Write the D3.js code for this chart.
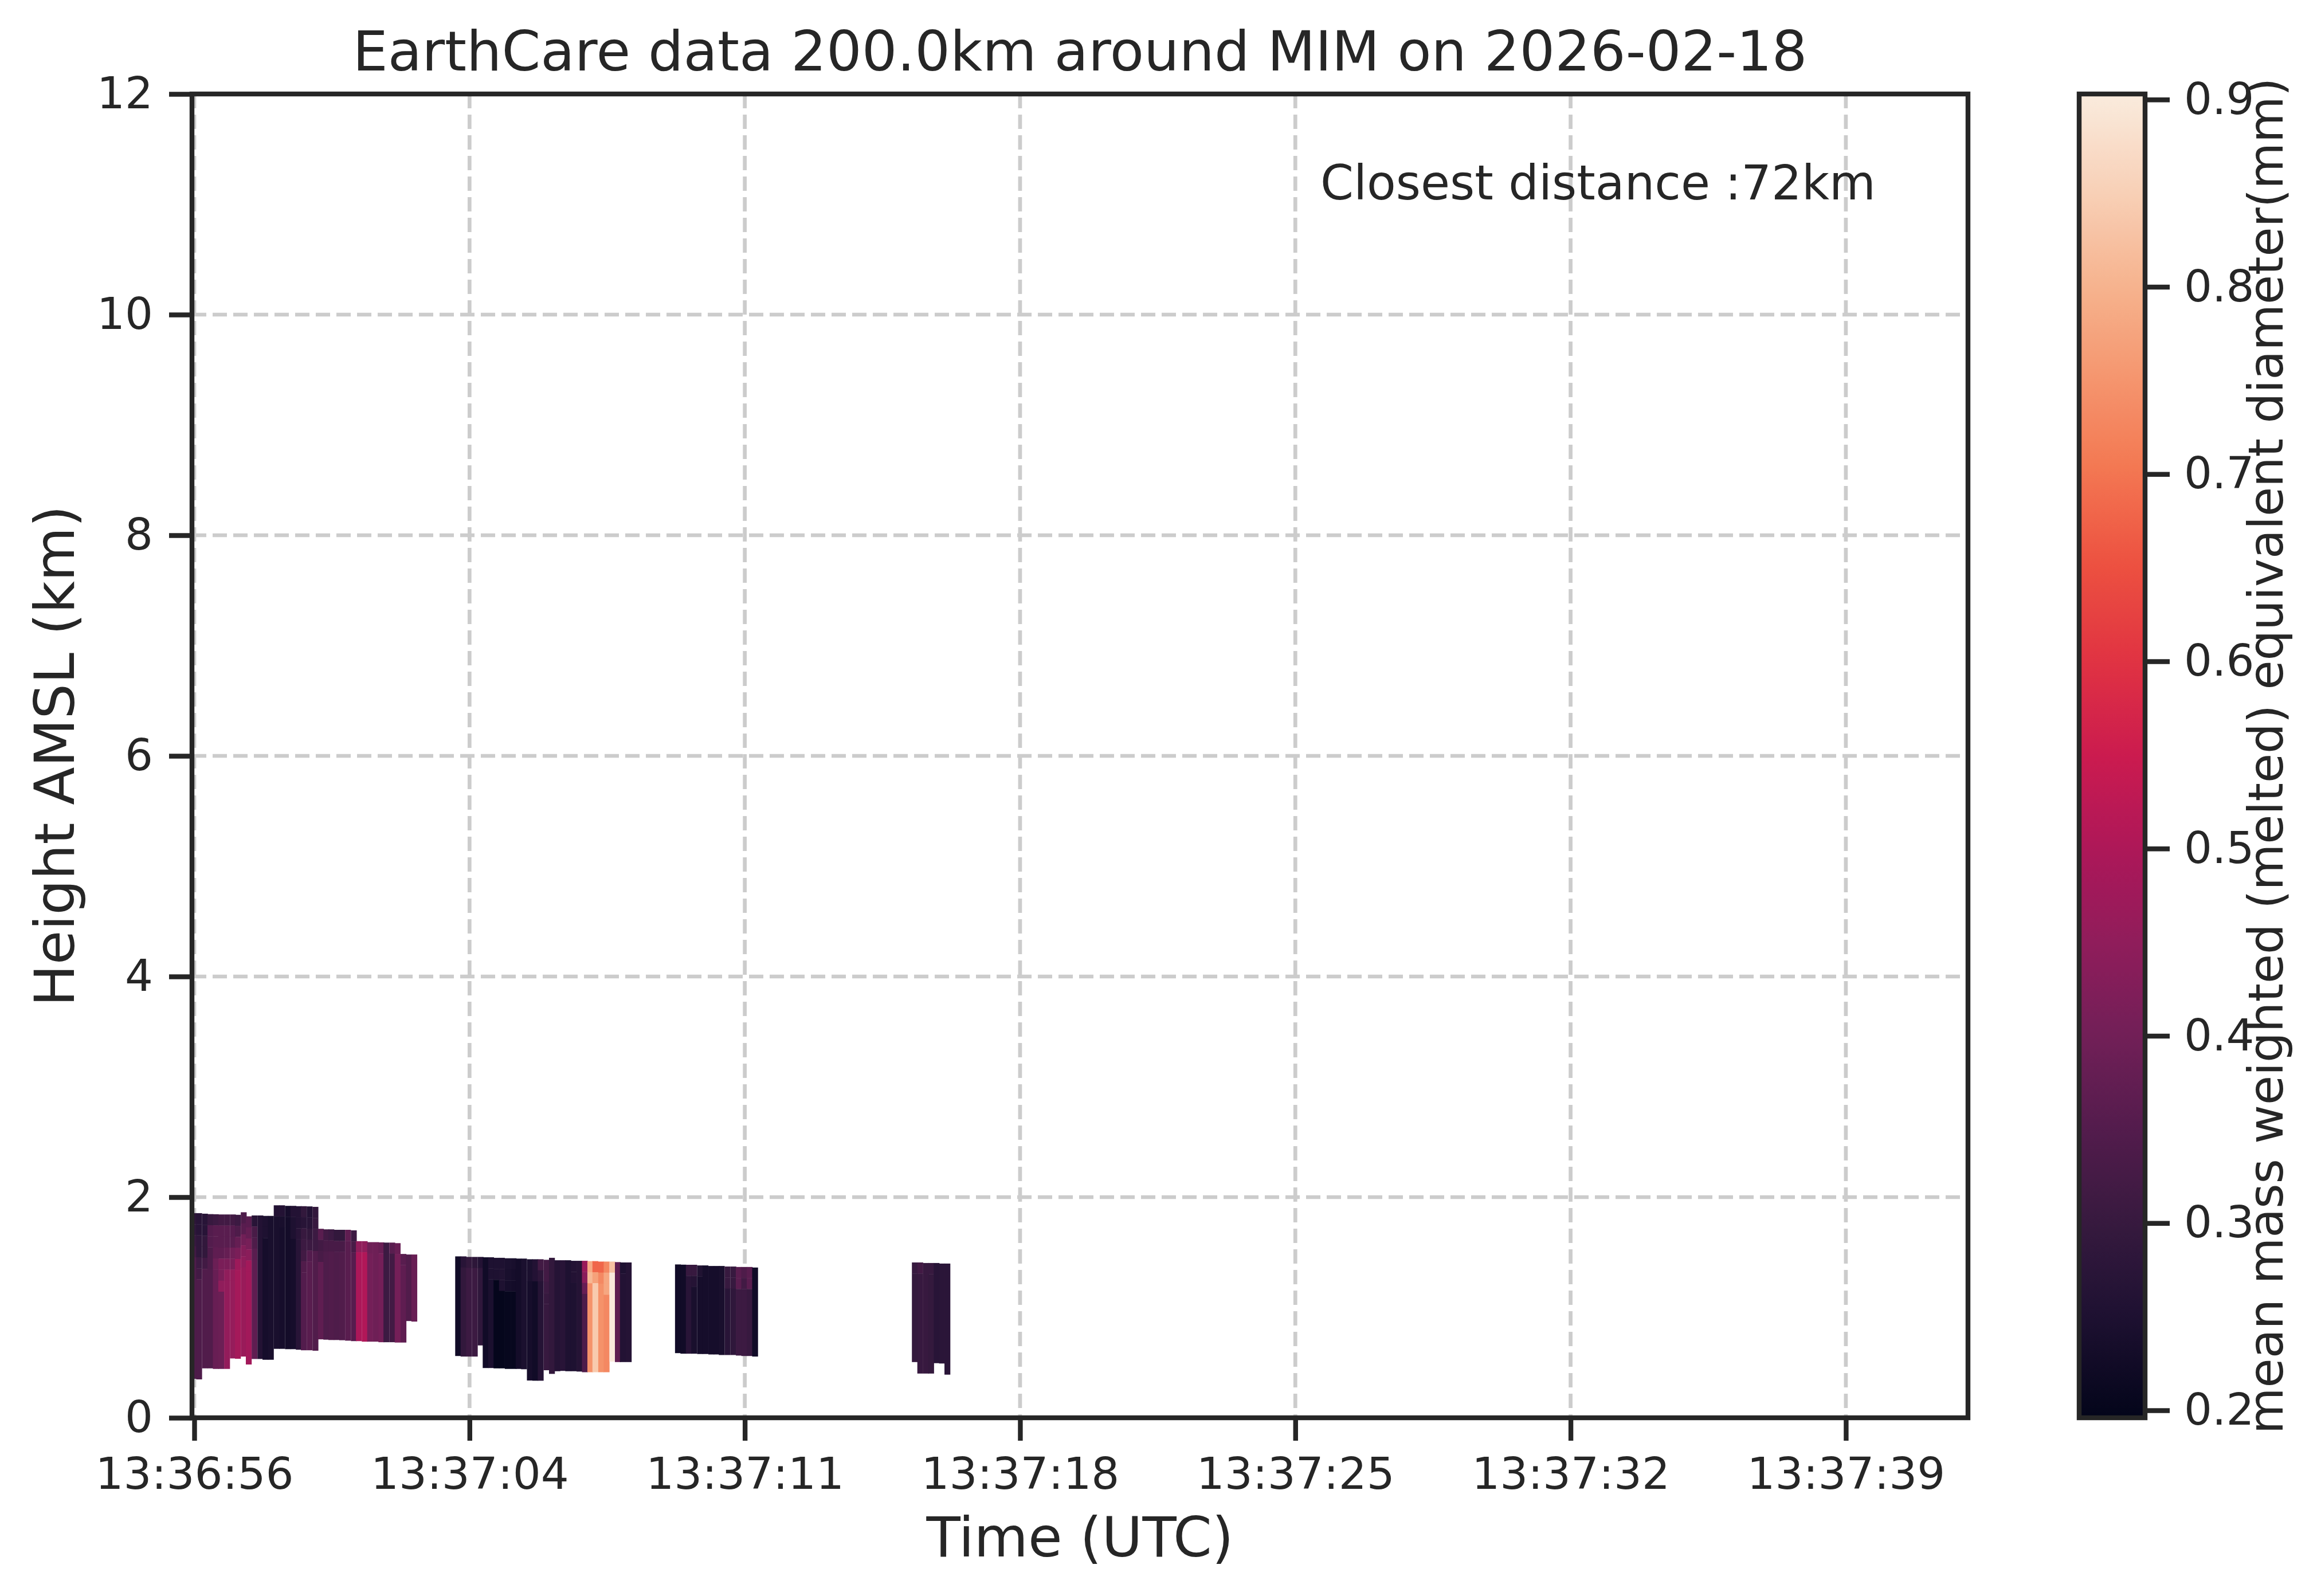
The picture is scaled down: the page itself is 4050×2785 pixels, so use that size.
<!DOCTYPE html>
<html>
<head>
<meta charset="utf-8">
<title>EarthCare MIM</title>
<script src="https://cdn.jsdelivr.net/npm/d3@7"></script>
<style>
    body { margin: 0; background: #ffffff; }
    text { font-family: "DejaVu Sans", sans-serif; fill: #262626; }
</style>
</head>
<body>
<script>
    const titleText = "EarthCare data 200.0km around MIM on 2026-02-18";
    const noteText = "Closest distance :72km";
    const xLabelText = "Time (UTC)";
    const yLabelText = "Height AMSL (km)";
    const cbarLabelText = "mean mass weighted (melted) equivalent diameter(mm)";

    // time in seconds after 13:36:00 UTC
    const timeDomain = [56.891, 102.70];
    const xTickSeconds = [56.95, 64.05, 71.15, 78.25, 85.35, 92.45, 99.55];
    const xTickLabels = ["13:36:56", "13:37:04", "13:37:11", "13:37:18", "13:37:25", "13:37:32", "13:37:39"];
    const heightDomain = [0, 12];
    const yTicks = [0, 2, 4, 6, 8, 10, 12];
    const colorDomain = [0.196, 0.903];
    const cbarTicks = [0.2, 0.3, 0.4, 0.5, 0.6, 0.7, 0.8, 0.9];

    const profileStep = 0.1425; // s between profiles
    const binHeight = 0.1;      // km per range bin

    // seaborn "rocket"
    const rocketStops = ["#03051a", "#1c1030", "#35193e", "#521c4c", "#701f57", "#8f1d5b", "#ad1759",
        "#cb1b4f", "#e13342", "#ec5040", "#f37651", "#f5966e", "#f6b48f", "#f8d1b8", "#faebdd"];

    // [time, base km, top km, values from top bin downward (last one fills down to base)]
    const segment1 = [
        [56.86, 0.355, 1.855, [0.28, 0.285, 0.30, 0.32, 0.34]],
        [57.00, 0.350, 1.855, [0.27, 0.27, 0.285, 0.285, 0.31, 0.32, 0.34]],
        [57.15, 0.450, 1.850, [0.27, 0.27, 0.29, 0.29, 0.32, 0.345]],
        [57.29, 0.450, 1.846, [0.30, 0.35, 0.35, 0.34, 0.34, 0.345]],
        [57.43, 0.445, 1.845, [0.31, 0.36, 0.36, 0.37, 0.39, 0.385]],
        [57.57, 0.445, 1.843, [0.32, 0.36, 0.36, 0.37, 0.415, 0.415, 0.45, 0.39]],
        [57.72, 0.445, 1.843, [0.32, 0.36, 0.36, 0.38, 0.415, 0.45, 0.455]],
        [57.87, 0.540, 1.843, [0.32, 0.355, 0.36, 0.40, 0.415, 0.46, 0.46]],
        [58.00, 0.537, 1.840, [0.31, 0.34, 0.38, 0.415, 0.47, 0.485]],
        [58.15, 0.557, 1.863, [0.34, 0.36, 0.40, 0.43, 0.45, 0.465]],
        [58.28, 0.485, 1.826, [0.36, 0.38, 0.41, 0.44, 0.48, 0.48]],
        [58.43, 0.535, 1.834, [0.27, 0.33, 0.34, 0.36, 0.37]],
        [58.58, 0.535, 1.834, [0.26]],
        [58.71, 0.528, 1.830, [0.25, 0.25, 0.235]],
        [58.85, 0.528, 1.830, [0.24]],
        [59.00, 0.627, 1.926, [0.26, 0.24]],
        [59.14, 0.627, 1.926, [0.26, 0.24, 0.235]],
        [59.29, 0.624, 1.921, [0.235, 0.23]],
        [59.43, 0.624, 1.921, [0.26, 0.25, 0.25, 0.235]],
        [59.57, 0.619, 1.918, [0.26, 0.26, 0.27, 0.27]],
        [59.70, 0.614, 1.918, [0.29, 0.27, 0.30, 0.31, 0.32, 0.345, 0.35]],
        [59.85, 0.614, 1.916, [0.26, 0.27, 0.29, 0.31, 0.35, 0.36]],
        [60.00, 0.610, 1.912, [0.29, 0.30, 0.31, 0.31, 0.345]],
        [60.14, 0.713, 1.713, [0.36, 0.32, 0.33, 0.37]],
        [60.28, 0.710, 1.708, [0.32, 0.33, 0.34]],
        [60.41, 0.707, 1.708, [0.31, 0.33, 0.345]],
        [60.55, 0.707, 1.704, [0.29, 0.33, 0.34]],
        [60.69, 0.705, 1.704, [0.29, 0.33, 0.345]],
        [60.84, 0.701, 1.704, [0.37, 0.36]],
        [60.99, 0.697, 1.699, [0.31, 0.33, 0.355]],
        [61.12, 0.697, 1.601, [0.45, 0.495]],
        [61.27, 0.692, 1.601, [0.45, 0.505]],
        [61.41, 0.692, 1.592, [0.395, 0.405]],
        [61.56, 0.692, 1.592, [0.395]],
        [61.70, 0.687, 1.590, [0.385, 0.405]],
        [61.83, 0.687, 1.588, [0.31]],
        [61.98, 0.687, 1.588, [0.36, 0.32]],
        [62.12, 0.684, 1.583, [0.385, 0.405]],
        [62.27, 0.684, 1.485, [0.36, 0.37]],
        [62.41, 0.879, 1.480, [0.345]],
        [62.55, 0.874, 1.480, [0.385]]
    ];

    const segment2 = [
        [63.68, 0.562, 1.463, [0.225]],
        [63.82, 0.557, 1.463, [0.27, 0.29]],
        [63.96, 0.557, 1.458, [0.29, 0.31]],
        [64.11, 0.557, 1.458, [0.28, 0.31]],
        [64.26, 0.658, 1.458, [0.26, 0.285]],
        [64.39, 0.453, 1.455, [0.225]],
        [64.53, 0.453, 1.455, [0.25, 0.25, 0.245]],
        [64.67, 0.450, 1.450, [0.25, 0.25, 0.20]],
        [64.81, 0.450, 1.450, [0.25, 0.255, 0.25, 0.20]],
        [64.96, 0.445, 1.446, [0.245, 0.24, 0.235, 0.205]],
        [65.11, 0.445, 1.446, [0.24, 0.235, 0.23, 0.205]],
        [65.24, 0.445, 1.443, [0.23]],
        [65.38, 0.442, 1.443, [0.245]],
        [65.53, 0.340, 1.437, [0.245, 0.245, 0.235]],
        [65.67, 0.338, 1.437, [0.26, 0.26, 0.225]],
        [65.81, 0.338, 1.437, [0.32, 0.28, 0.265]],
        [65.96, 0.433, 1.432, [0.32, 0.32, 0.31, 0.30, 0.30]],
        [66.10, 0.400, 1.450, [0.29]],
        [66.24, 0.424, 1.428, [0.265]],
        [66.38, 0.427, 1.428, [0.27]],
        [66.52, 0.424, 1.428, [0.25]],
        [66.66, 0.424, 1.423, [0.26, 0.26, 0.25]],
        [66.81, 0.421, 1.423, [0.265]],
        [66.95, 0.415, 1.423, [0.465, 0.44, 0.385, 0.34]],
        [67.09, 0.415, 1.420, [0.785, 0.81, 0.745]],
        [67.22, 0.415, 1.420, [0.68, 0.77, 0.84]],
        [67.37, 0.415, 1.416, [0.68, 0.73, 0.745]],
        [67.51, 0.415, 1.416, [0.73, 0.78, 0.78, 0.73]],
        [67.66, 0.511, 1.416, [0.825, 0.90]],
        [67.80, 0.507, 1.411, [0.37]],
        [67.93, 0.507, 1.408, [0.25, 0.26]],
        [68.08, 0.507, 1.408, [0.265]]
    ];

    const segment3 = [
        [69.35, 0.588, 1.390, [0.225]],
        [69.49, 0.583, 1.388, [0.225]],
        [69.63, 0.583, 1.387, [0.30, 0.27]],
        [69.77, 0.583, 1.387, [0.30, 0.265, 0.24]],
        [69.92, 0.580, 1.381, [0.255, 0.235]],
        [70.06, 0.580, 1.381, [0.235]],
        [70.21, 0.576, 1.376, [0.235]],
        [70.35, 0.576, 1.376, [0.235]],
        [70.48, 0.571, 1.376, [0.24]],
        [70.63, 0.571, 1.371, [0.30, 0.30, 0.27]],
        [70.78, 0.571, 1.371, [0.30, 0.30, 0.285]],
        [70.92, 0.566, 1.367, [0.36, 0.36, 0.31]],
        [71.06, 0.562, 1.367, [0.34, 0.32, 0.31]],
        [71.20, 0.562, 1.367, [0.36, 0.36, 0.30]],
        [71.34, 0.557, 1.362, [0.225]]
    ];

    const segment4 = [
        [75.46, 0.507, 1.408, [0.30, 0.295]],
        [75.60, 0.403, 1.408, [0.32, 0.30]],
        [75.75, 0.403, 1.403, [0.30]],
        [75.88, 0.403, 1.403, [0.30, 0.295]],
        [76.02, 0.497, 1.403, [0.27]],
        [76.16, 0.494, 1.398, [0.275]],
        [76.30, 0.393, 1.398, [0.275]]
    ];

    const W = 4050, H = 2785;
    const box = { left: 335, right: 3434, top: 164, bottom: 2474 };
    const ink = "#262626";
    const lw = 8.4;

    const svg = d3.select("body").append("svg").attr("width", W).attr("height", H);
    svg.append("rect").attr("width", W).attr("height", H).attr("fill", "#fff");

    const x = d3.scaleLinear().domain(timeDomain).range([box.left, box.right]);
    const y = d3.scaleLinear().domain(heightDomain).range([box.bottom, box.top]);
    const color = d3.scaleSequential(d3.piecewise(d3.interpolateRgb, rocketStops)).domain(colorDomain);

    // grid below everything
    const grid = svg.append("g").attr("stroke", "#cccccc").attr("stroke-width", 6.7).attr("stroke-dasharray", "25 11");
    grid.selectAll("line.h").data(yTicks).join("line").attr("class", "h")
        .attr("x1", box.left).attr("x2", box.right).attr("y1", d => y(d)).attr("y2", d => y(d));
    grid.selectAll("line.v").data(xTickSeconds).join("line").attr("class", "v")
        .attr("x1", d => x(d)).attr("x2", d => x(d)).attr("y1", box.top).attr("y2", box.bottom);

    // profiles -> cells
    const cells = [];
    [segment1, segment2, segment3, segment4].forEach(seg => {
        seg.forEach(([t, base, top, vals]) => {
            vals.forEach((v, i) => {
                const hi = top - i * binHeight;
                const lo = i === vals.length - 1 ? base : Math.max(base, top - (i + 1) * binHeight);
                if (hi > lo) cells.push({ t, hi, lo, v });
            });
        });
    });

    svg.append("clipPath").attr("id", "plotClip").append("rect")
        .attr("x", box.left).attr("y", box.top).attr("width", box.right - box.left).attr("height", box.bottom - box.top);

    svg.append("g").attr("clip-path", "url(#plotClip)")
        .selectAll("rect").data(cells).join("rect")
        .attr("x", d => x(d.t))
        .attr("width", d => x(d.t + profileStep) - x(d.t) + 0.6)
        .attr("y", d => y(d.hi))
        .attr("height", d => y(d.lo) - y(d.hi) + 0.4)
        .attr("fill", d => color(d.v));

    // axes
    const xAxis = d3.axisBottom(x).tickValues(xTickSeconds).tickFormat((d, i) => xTickLabels[i])
        .tickSize(40).tickSizeOuter(0).tickPadding(29);
    const gx = svg.append("g").attr("transform", `translate(0,${box.bottom})`).call(xAxis);

    const yAxis = d3.axisLeft(y).tickValues(yTicks).tickFormat(d3.format("d"))
        .tickSize(40).tickSizeOuter(0).tickPadding(28);
    const gy = svg.append("g").attr("transform", `translate(${box.left},0)`).call(yAxis);

    [gx, gy].forEach(g => {
        g.select(".domain").remove();
        g.selectAll(".tick line").attr("stroke", ink).attr("stroke-width", lw);
        g.selectAll(".tick text").attr("font-size", 77).attr("fill", ink)
            .attr("font-family", "DejaVu Sans, sans-serif");
    });

    svg.append("rect")
        .attr("x", box.left).attr("y", box.top)
        .attr("width", box.right - box.left).attr("height", box.bottom - box.top)
        .attr("fill", "none").attr("stroke", ink).attr("stroke-width", lw);

    // texts
    svg.append("text").attr("x", (box.left + box.right) / 2).attr("y", 123)
        .attr("text-anchor", "middle").attr("font-size", 97).text(titleText);

    svg.append("text").attr("x", 2304).attr("y", 348)
        .attr("font-size", 83).text(noteText);

    svg.append("text").attr("x", (box.left + box.right) / 2).attr("y", 2716)
        .attr("text-anchor", "middle").attr("font-size", 97).text(xLabelText);

    svg.append("text").attr("transform", `translate(129,${(box.top + box.bottom) / 2}) rotate(-90)`)
        .attr("text-anchor", "middle").attr("font-size", 97).text(yLabelText);

    // colorbar
    const cb = { left: 3628, right: 3743 };
    const c = d3.scaleLinear().domain(colorDomain).range([box.bottom, box.top]);

    const grad = svg.append("defs").append("linearGradient").attr("id", "cbarGrad")
        .attr("x1", 0).attr("y1", 1).attr("x2", 0).attr("y2", 0);
    grad.selectAll("stop").data(d3.range(0, 1.0001, 0.02)).join("stop")
        .attr("offset", d => d)
        .attr("stop-color", d => color(colorDomain[0] + d * (colorDomain[1] - colorDomain[0])));

    svg.append("rect")
        .attr("x", cb.left).attr("y", box.top)
        .attr("width", cb.right - cb.left).attr("height", box.bottom - box.top)
        .attr("fill", "url(#cbarGrad)").attr("stroke", ink).attr("stroke-width", lw);

    const cAxis = d3.axisRight(c).tickValues(cbarTicks).tickFormat(d3.format(".1f"))
        .tickSize(40).tickSizeOuter(0).tickPadding(25);
    const gc = svg.append("g").attr("transform", `translate(${cb.right + 3},0)`).call(cAxis);
    gc.select(".domain").remove();
    gc.selectAll(".tick line").attr("stroke", ink).attr("stroke-width", lw);
    gc.selectAll(".tick text").attr("font-size", 77).attr("fill", ink)
        .attr("font-family", "DejaVu Sans, sans-serif");

    svg.append("text").attr("transform", `translate(3983,${(box.top + box.bottom) / 2}) rotate(-90)`)
        .attr("text-anchor", "middle").attr("font-size", 83).text(cbarLabelText);
</script>
</body>
</html>
